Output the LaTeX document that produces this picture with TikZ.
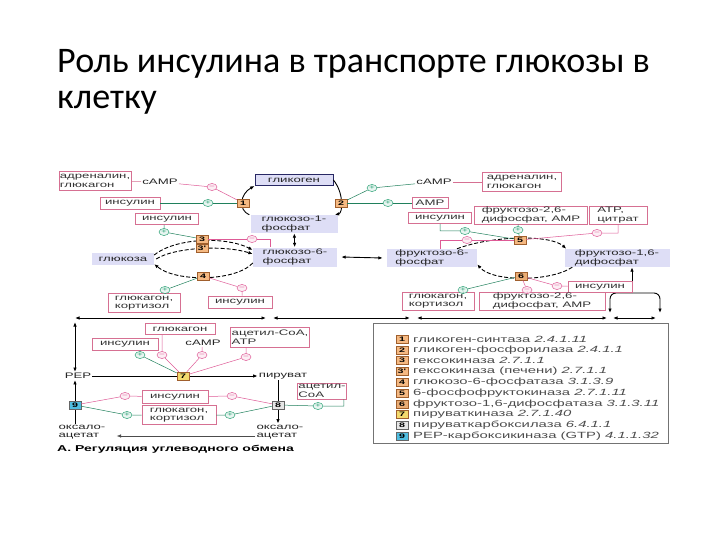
\documentclass[tikz,border=0pt]{standalone}
\usepackage{fontspec}
\setmainfont{Carlito}
\newfontfamily\dia[FakeStretch=1.65]{Liberation Sans}
\newcommand{\diafont}{\dia\fontsize{8}{8.5}\selectfont}
\newcommand{\legfont}{\dia\fontsize{9}{9.5}\selectfont}
\usetikzlibrary{shapes.geometric,arrows.meta}
\definecolor{regpink}{RGB}{214,112,146}
\definecolor{actgreen}{RGB}{40,160,115}
\definecolor{inhpink}{RGB}{222,90,150}
\definecolor{metfill}{RGB}{222,222,246}
\definecolor{enzfill}{RGB}{245,185,130}
\definecolor{enzdraw}{RGB}{160,95,45}
\definecolor{pkfill}{RGB}{243,218,110}
\definecolor{pcfill}{RGB}{230,230,230}
\definecolor{pepfill}{RGB}{80,190,225}
\definecolor{glynavy}{RGB}{40,40,100}

\tikzset{
  met/.style={fill=metfill, font=\diafont, align=left, inner sep=1pt, text=black!85},
  regbox/.style={draw=regpink, fill=white, font=\diafont, align=left, inner sep=1pt, text=black!80, line width=0.6pt},
  plain/.style={font=\diafont, align=left, inner sep=1pt, text=black!85},
  enz/.style={draw=enzdraw, fill=enzfill, font=\dia\fontsize{6.5}{6.5}\selectfont\bfseries, inner sep=0pt, minimum width=12pt, minimum height=8pt, line width=0.5pt},
  act/.style={ellipse, draw=actgreen, fill=actgreen!10, text=actgreen, inner sep=0pt, minimum width=10pt, minimum height=7pt, font=\dia\fontsize{6}{6}\selectfont, line width=0.5pt},
  inh/.style={ellipse, draw=inhpink, fill=inhpink!10, text=inhpink, inner sep=0pt, minimum width=10pt, minimum height=7pt, font=\dia\fontsize{6}{6}\selectfont, line width=0.5pt},
  actline/.style={draw=actgreen!80!black, line width=0.5pt},
  inhline/.style={draw=inhpink, line width=0.5pt},
  regline/.style={draw=regpink, line width=0.5pt},
  flow/.style={-{Latex[length=4.5pt,width=3.5pt]}, line width=0.9pt},
  dflow/.style={flow, dash pattern=on 4pt off 2pt},
  both/.style={{Latex[length=4.5pt,width=3.5pt]}-{Latex[length=4.5pt,width=3.5pt]}, line width=0.9pt},
  legtext/.style={font=\legfont, anchor=west, inner sep=0pt, text=black!70},
}

\begin{document}
\begin{tikzpicture}[x=1pt,y=-1pt]
\useasboundingbox (0,0) rectangle (720,540);

\node[anchor=base west, font=\fontsize{36}{40}\selectfont, inner sep=0pt] (title1) at (57,73) {Роль инсулина в транспорте глюкозы в};
\node[anchor=base west, font=\fontsize{36}{40}\selectfont, inner sep=0pt] (title2) at (57,109) {клетку};

% metabolites
\node[met, draw=glynavy, line width=0.8pt, minimum width=78pt, minimum height=11pt] (glycogen) at (294,180) {гликоген};
\node[met, minimum width=87pt, minimum height=18pt] (g1p) at (294,224) {глюкозо-1-\\фосфат};
\node[met, minimum width=84pt, minimum height=19pt] (g6p) at (295,257) {глюкозо-6-\\фосфат};
\node[met, minimum width=62pt, minimum height=12pt] (glucose) at (123,259) {глюкоза};
\node[met, minimum width=90pt, minimum height=18pt] (f6p) at (432,258) {фруктозо-6-\\фосфат};
\node[met, minimum width=105pt, minimum height=18pt] (f16bp) at (617,258) {фруктозо-1,6-\\дифосфат};
\node[plain] (pep) at (78,376) {PEP};
\node[plain] (pyr) at (283,376) {пируват};
\node[plain] (oxaR) at (280,432) {оксало-\\ацетат};
\node[plain] (oxaL) at (82,432) {оксало-\\ацетат};

\draw[flow] ([xshift=-1pt]g1p.north west) .. controls (238,210) and (240,194) .. (glycogen.south west);
\draw[flow] (glycogen.east) .. controls (344,193) and (343,213) .. ([xshift=-3pt]g1p.north east);
\draw[both] (g1p) -- (g6p);
\draw[both] ([xshift=4pt]g6p.east) -- ([xshift=-4pt]f6p.west);
\draw[dflow] ([yshift=4pt]glucose.east) .. controls (175,238) and (225,236) .. ([yshift=7pt]g6p.west);
\draw[dflow] ([xshift=2pt]glucose.east) .. controls (175,247) and (225,245) .. ([yshift=3pt]g6p.west);
\draw[dflow] ([yshift=-6pt]g6p.west) .. controls (235,282) and (175,282) .. ([yshift=-5pt]glucose.east);
\draw[dflow] ([xshift=25pt]f6p.north) .. controls (490,236) and (550,234) .. ([xshift=2pt]f16bp.north west);
\draw[dflow] ([xshift=8pt]f16bp.south west) .. controls (550,282) and (492,282) .. ([yshift=3pt]f6p.south east);

\coordinate (aldo) at (632,293);
\coordinate (tpL) at (610,313);
\coordinate (tpR) at (660,313);
\draw[flow] (aldo) -- (aldo |- f16bp.south);
\draw[both, rounded corners=6pt] (tpL) |- (aldo) -| (tpR);

\coordinate (c0) at (75,318);
\coordinate (c1) at (266,318);
\coordinate (c2) at (273,318);
\coordinate (c3) at (410,318);
\coordinate (c4) at (417,318);
\coordinate (c5) at (607,318);
\coordinate (c6) at (613,318);
\coordinate (c7) at (656,318);
\draw[both] (c0) -- (c1);
\draw[both] (c2) -- (c3);
\draw[both] (c4) -- (c5);
\draw[both] (c6) -- (c7);
\draw[both] (c0 |- pep.north) -- ([yshift=-4pt]c0);

\draw[flow] (pep) -- (pyr);
\draw[flow] (pyr.south -| 278,0) -- (oxaR.north -| 278,0);
\draw[flow, line width=0.6pt, draw=black!70] ([yshift=-4pt]oxaR.west) -- ([yshift=-4pt,xshift=10pt]oxaL.east);
\draw[flow] (oxaL.north -| 75,0) -- (pep.south -| 75,0);

% enzymes
\node[enz] (e1) at (243,203) {1};
\node[enz] (e2) at (341,203) {2};
\node[enz] (e3) at (202,239) {3};
\node[enz] (e3p) at (202,248) {3'};
\node[enz] (e4) at (203,276) {4};
\node[enz] (e5) at (520,240) {5};
\node[enz, fill=enzfill!80!brown] (e6) at (521,276) {6};
\node[enz, fill=pkfill] (e7) at (183,376) {7};
\node[enz, fill=pcfill, draw=black!60] (e8) at (278,405) {8};
\node[enz, fill=pepfill, draw=black!60] (e9) at (75,405) {9};

% regulators
\node[regbox, minimum width=66pt, minimum height=19pt] (adrL) at (95,181) {адреналин,\\глюкагон};
\node[plain] (campL) at (160,182) {cAMP};
\node[regbox, minimum width=60pt, minimum height=12pt] (insA) at (130,203) {инсулин};
\node[regbox, minimum width=63pt, minimum height=11pt] (insB) at (167,219) {инсулин};
\node[regbox, minimum width=72pt, minimum height=19pt] (glkL) at (144,303) {глюкагон,\\кортизол};
\node[regbox, minimum width=64pt, minimum height=12pt] (insC) at (240,302) {инсулин};
\node[plain] (campR) at (434,182) {cAMP};
\node[regbox, minimum width=79pt, minimum height=19pt] (adrR) at (522,182) {адреналин,\\глюкагон};
\node[regbox, minimum width=36pt, minimum height=11pt] (ampR) at (430,203) {AMP};
\node[regbox, minimum width=63pt, minimum height=11pt] (insD) at (440,218) {инсулин};
\node[regbox, minimum width=113pt, minimum height=18pt] (f26a) at (531,215) {фруктозо-2,6-\\дифосфат, AMP};
\node[regbox, minimum width=58pt, minimum height=18pt] (atpR) at (618,215) {ATP,\\цитрат};
\node[regbox, minimum width=64pt, minimum height=11pt] (insE) at (600,287) {инсулин};
\node[regbox, minimum width=72pt, minimum height=18pt] (glkR) at (438,301) {глюкагон,\\кортизол};
\node[regbox, minimum width=126pt, minimum height=18pt] (f26b) at (542,301) {фруктозо-2,6-\\дифосфат, AMP};
\node[regbox, minimum width=70pt, minimum height=11pt] (glcM) at (180,329) {глюкагон};
\node[regbox, minimum width=66pt, minimum height=12pt] (insF) at (125,344) {инсулин};
\node[plain] (campM) at (203,343) {cAMP};
\node[regbox, minimum width=56pt, minimum height=20pt] (acoaM) at (270,337) {ацетил-CoA,\\ATP};
\node[regbox, minimum width=32pt, minimum height=16pt] (acoaR) at (322,391) {ацетил-\\CoA};
\node[regbox, minimum width=66pt, minimum height=13pt] (insG) at (175,397) {инсулин};
\node[regbox, minimum width=74pt, minimum height=19pt] (glkB) at (179,415) {глюкагон,\\кортизол};

% effect marks
\node[inh] (i1) at (212,187) {−};
\node[act] (a1) at (208,203) {+};
\node[act] (a2) at (372,188) {+};
\node[act] (a3) at (388,203) {+};
\node[act] (a4) at (164,232) {+};
\node[inh] (i3) at (252,239) {−};
\node[act] (a5) at (165,290) {+};
\node[inh] (i5) at (242,288) {−};
\node[act] (a6) at (465,231) {+};
\node[inh] (i6) at (467,240) {−};
\node[act] (a7) at (518,230) {+};
\node[inh] (i7) at (597,233) {−};
\node[act] (a8) at (463,290) {+};
\node[inh] (i8) at (527,290) {−};
\node[inh] (i9) at (557,286) {−};
\node[act] (a13) at (140,355) {+};
\node[inh] (i13) at (162,355) {−};
\node[inh] (i14) at (202,355) {−};
\node[inh] (i15) at (246,357) {−};
\node[inh] (i10) at (125,396) {−};
\node[act] (a10) at (127,415) {+};
\node[inh] (i11) at (232,396) {−};
\node[act] (a11) at (230,415) {+};
\node[act] (a12) at (318,406) {+};

\draw[regline] (adrL) -- (campL);
\draw[inhline] (campL) -- (i1) -- (e1);
\draw[actline] (insA) -- (a1) -- (e1);
\draw[regline] (campR) -- (adrR);
\draw[actline] (campR) -- (a2) -- (e2);
\draw[actline] (ampR) -- (a3) -- (e2);
\draw[actline] (insB.south -| a4) -- (a4) -- (e3);
\draw[inhline] (e3) -- (i3) -| ([xshift=-25pt]g6p.north);
\draw[actline] (glkL.north -| a5) -- (a5) -- (e4);
\draw[inhline] (insC.north -| i5) -- (i5) -- (e4);
\draw[actline] (insD.south) |- (a6) -- (e5);
\draw[inhline] ([xshift=8pt]f6p.north) |- (i6) -- (e5);
\draw[actline] (f26a.south -| a7) -- (a7) -- (e5);
\draw[inhline] (atpR.south) |- (i7) -- (e5);
\draw[actline] (glkR.north -| a8) -- (a8) -- (e6);
\draw[inhline] (f26b.north -| i8) -- (i8) -- (e6);
\draw[inhline] (insE) -- (i9) -- (e6);
\draw[actline] (insF.south -| a13) -- (a13) -- (e7);
\draw[inhline] (glcM.south -| i13) -- (i13) -- (e7);
\draw[inhline] (campM.south -| i14) -- (i14) -- (e7);
\draw[inhline] (acoaM.south -| i15) -- (i15) -- (e7);
\draw[inhline] (e9) -- (i10) -- (insG);
\draw[actline] (e9) -- (a10) -- (glkB);
\draw[inhline] (insG) -- (i11) -- (e8);
\draw[actline] (glkB) -- (a11) -- (e8);
\draw[actline] ([xshift=-3pt]acoaR.south east) |- (a12) -- (e8);

% legend
\node[draw=black!55, line width=0.6pt, minimum width=295pt, minimum height=120pt] (legend) at (520.5,383) {};
\node[enz] (k1) at (402,339) {1};
\node[legtext] (t1) at (413,339) {гликоген-синтаза \textit{2.4.1.11}};
\node[enz] (k2) at (402,349.8) {2};
\node[legtext] (t2) at (413,349.8) {гликоген-фосфорилаза \textit{2.4.1.1}};
\node[enz] (k3) at (402,360.6) {3};
\node[legtext] (t3) at (413,360.6) {гексокиназа \textit{2.7.1.1}};
\node[enz] (k3p) at (402,371.4) {3'};
\node[legtext] (t3p) at (413,371.4) {гексокиназа (печени) \textit{2.7.1.1}};
\node[enz] (k4) at (402,382.2) {4};
\node[legtext] (t4) at (413,382.2) {глюкозо-6-фосфатаза \textit{3.1.3.9}};
\node[enz] (k5) at (402,393) {5};
\node[legtext] (t5) at (413,393) {6-фосфофруктокиназа \textit{2.7.1.11}};
\node[enz, fill=enzfill!80!brown] (k6) at (402,403.8) {6};
\node[legtext] (t6) at (413,403.8) {фруктозо-1,6-дифосфатаза \textit{3.1.3.11}};
\node[enz, fill=pkfill] (k7) at (402,414.6) {7};
\node[legtext] (t7) at (413,414.6) {пируваткиназа \textit{2.7.1.40}};
\node[enz, fill=pcfill, draw=black!60] (k8) at (402,425.4) {8};
\node[legtext] (t8) at (413,425.4) {пируваткарбоксилаза \textit{6.4.1.1}};
\node[enz, fill=pepfill, draw=black!60] (k9) at (402,436.2) {9};
\node[legtext] (t9) at (413,436.2) {PEP-карбоксикиназа (GTP) \textit{4.1.1.32}};

\node[anchor=west, font=\dia\fontsize{8.5}{9}\selectfont\bfseries, inner sep=0pt] (caption) at (57,449) {А. Регуляция углеводного обмена};
\end{tikzpicture}
\end{document}
